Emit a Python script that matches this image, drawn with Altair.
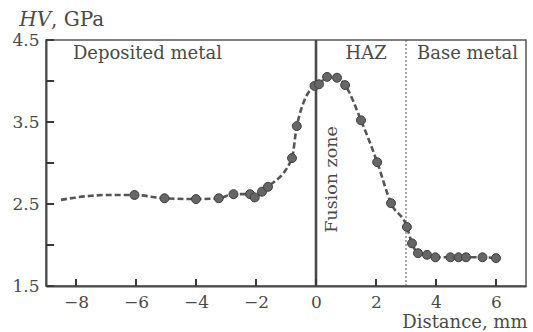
import altair as alt
import pandas as pd

# measured points
pt_x = [-6.05, -5.05, -4.0, -3.24, -2.75, -2.2, -2.04, -1.8, -1.6, -0.8, -0.64,
        -0.05, 0.1, 0.37, 0.7, 0.97, 1.5, 2.04, 2.5, 3.03, 3.2, 3.4, 3.7, 3.98,
        4.48, 4.75, 5.0, 5.55, 6.0]
pt_y = [2.61, 2.57, 2.56, 2.57, 2.62, 2.62, 2.58, 2.65, 2.71, 3.06, 3.45,
        3.94, 3.96, 4.05, 4.04, 3.95, 3.52, 3.01, 2.51, 2.22, 2.02, 1.90, 1.88, 1.85,
        1.85, 1.85, 1.85, 1.85, 1.84]
# dashed trend line without markers on the left
lead_x = [-8.5, -8.0, -7.5, -7.0, -6.5]
lead_y = [2.55, 2.58, 2.60, 2.61, 2.61]

x_ticks = [-8, -6, -4, -2, 0, 2, 4, 6]
y_ticks = [1.5, 2.0, 2.5, 3.0, 3.5, 4.0, 4.5]

zone_labels = ["Deposited metal", "HAZ", "Base metal"]
zone_x = [-5.62, 1.67, 5.05]
zone_y = [4.33, 4.33, 4.33]

FONT = "DejaVu Serif"
INK = "#4a4a4a"

pts = pd.DataFrame({"x": pt_x, "y": pt_y})
line_df = pd.DataFrame({"x": lead_x + pt_x, "y": lead_y + pt_y})

xs = alt.Scale(domain=[-9, 7], nice=False, zero=False)
ys = alt.Scale(domain=[1.5, 4.5], nice=False, zero=False)

X = alt.X("x:Q", scale=xs, axis=alt.Axis(
    values=x_ticks, ticks=False, grid=False, domain=True, domainColor=INK,
    domainWidth=2, labelFont=FONT, labelFontSize=17, labelColor=INK,
    labelPadding=8, title="Distance, mm", titleFont=FONT, titleFontSize=18,
    titleFontWeight="normal", titleColor=INK, titleAlign="right",
    titleX=481, titleY=41, titleBaseline="alphabetic"))
Y = alt.Y("y:Q", scale=ys, axis=alt.Axis(
    values=y_ticks, ticks=False, grid=False, domain=True, domainColor=INK,
    domainWidth=2, labelFont=FONT, labelFontSize=17, labelColor=INK,
    labelPadding=7,
    labelExpr="(datum.value*2) % 2 == 1 ? format(datum.value, '.1f') : ''",
    title=None))

line = alt.Chart(line_df).mark_line(
    color="#555555", strokeWidth=2.6, strokeDash=[6, 3], interpolate="monotone"
).encode(x=X, y=Y)

points = alt.Chart(pts).mark_circle(
    size=80, color="#666666", stroke="#3f3f3f", strokeWidth=1, opacity=1
).encode(x="x:Q", y="y:Q")

# fusion line and HAZ boundary
vdf = pd.DataFrame({"x": [0.0]})
fusion = alt.Chart(vdf).mark_rule(color="#4a4a4a", strokeWidth=2.6).encode(x="x:Q")
hdf = pd.DataFrame({"x": [3.0]})
haz = alt.Chart(hdf).mark_rule(color="#555555", strokeWidth=1, strokeDash=[2, 2]).encode(x="x:Q")

# inward ticks
ytk = pd.DataFrame({"y": y_ticks, "x0": [-9.0] * len(y_ticks), "x1": [-8.73] * len(y_ticks)})
ytick_marks = alt.Chart(ytk).mark_rule(color="#3a3a3a", strokeWidth=2).encode(
    y="y:Q", x="x0:Q", x2="x1:Q")
xtk = pd.DataFrame({"x": x_ticks, "y0": [1.5] * len(x_ticks), "y1": [1.585] * len(x_ticks)})
xtick_marks = alt.Chart(xtk).mark_rule(color="#3a3a3a", strokeWidth=2).encode(
    x="x:Q", y="y0:Q", y2="y1:Q")

zones = alt.Chart(pd.DataFrame({"t": zone_labels, "x": zone_x, "y": zone_y})).mark_text(
    font=FONT, fontSize=18, color=INK, baseline="middle"
).encode(x="x:Q", y="y:Q", text="t:N")

fz = alt.Chart(pd.DataFrame({"t": ["Fusion zone"], "x": [0.52], "y": [2.8]})).mark_text(
    font=FONT, fontSize=17.5, color=INK, angle=270, baseline="middle"
).encode(x="x:Q", y="y:Q", text="t:N")

hv = alt.Chart(pd.DataFrame({"t": ["HV"], "x": [-8.83], "y": [4.67]})).mark_text(
    font=FONT, fontSize=20, color=INK, fontStyle="italic", align="right", baseline="alphabetic"
).encode(x="x:Q", y="y:Q", text="t:N")
gpa = alt.Chart(pd.DataFrame({"t": [", GPa"], "x": [-8.83], "y": [4.67]})).mark_text(
    font=FONT, fontSize=20, color=INK, align="left", baseline="alphabetic"
).encode(x="x:Q", y="y:Q", text="t:N")

chart = alt.layer(
    line, fusion, haz, ytick_marks, xtick_marks, points, zones, fz, hv, gpa
).properties(
    width=480, height=246,
    autosize=alt.AutoSizeParams(type="none"),
    padding={"left": 46, "top": 40, "right": 7, "bottom": 46},
    background="white",
).configure_view(stroke="#555555", strokeWidth=1.5, clip=False)

chart.save("out.html", embed_options={"renderer": "svg", "actions": False})
